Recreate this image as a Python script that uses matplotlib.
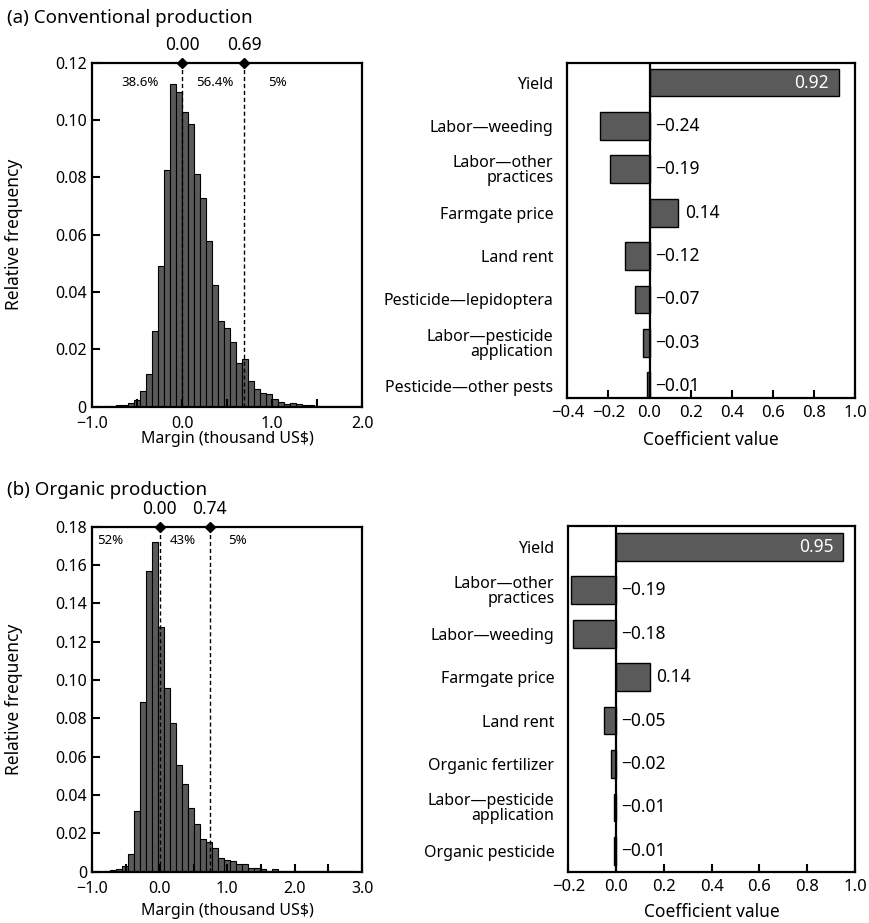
import matplotlib
matplotlib.use("Agg")
import matplotlib.pyplot as plt
import numpy as np
from matplotlib.ticker import FixedLocator, FuncFormatter

plt.rcParams['font.family'] = ['Noto Sans', 'DejaVu Sans']
plt.rcParams['axes.unicode_minus'] = True

# histogram of margins, (a) conventional: 45 bins from -1 to 2
conv_range = (-1.0, 2.0)
conv_freq = [0, 0, 0.0002, 0.0003, 0.0005, 0.0006, 0.0013, 0.0025, 0.0056, 0.0113,
             0.0265, 0.0492, 0.0826, 0.1124, 0.1097, 0.1029, 0.0986, 0.0810, 0.0727, 0.0578,
             0.0426, 0.0299, 0.0276, 0.0227, 0.0151, 0.0165, 0.0091, 0.0060, 0.0047, 0.0044,
             0.0026, 0.0017, 0.0008, 0.0012, 0.0009, 0.0005, 0.0005, 0.0004, 0.0003, 0.0003,
             0.0002, 0.0002, 0.0002, 0.0001, 0.0001]
conv_marks = [0.00, 0.69]
conv_pct = ['38.6%', '56.4%', '5%']
conv_pct_x = [-0.47, 0.36, 1.06]

# (b) organic: 45 bins from -1 to 3
org_range = (-1.0, 3.0)
org_freq = [0, 0, 0.0003, 0.0007, 0.0014, 0.0030, 0.0093, 0.0315, 0.0887, 0.1570,
            0.1720, 0.1275, 0.0960, 0.0774, 0.0555, 0.0456, 0.0334, 0.0249, 0.0170, 0.0157,
            0.0122, 0.0070, 0.0060, 0.0058, 0.0038, 0.0038, 0.0017, 0.0017, 0.0016, 0.0004,
            0.0012, 0.0005, 0.0004, 0.0003, 0.0003, 0.0002, 0.0002, 0.0002, 0.0002, 0.0001,
            0.0001, 0.0001, 0.0001, 0.0001, 0]
org_marks = [0.00, 0.74]
org_pct = ['52%', '43%', '5%']
org_pct_x = [-0.74, 0.335, 1.144]

# regression coefficients
conv_vars = ['Yield', 'Labor\u2014weeding', 'Labor\u2014other\npractices', 'Farmgate price',
             'Land rent', 'Pesticide\u2014lepidoptera', 'Labor\u2014pesticide\napplication',
             'Pesticide\u2014other pests']
conv_coef = [0.92, -0.24, -0.19, 0.14, -0.12, -0.07, -0.03, -0.01]
org_vars = ['Yield', 'Labor\u2014other\npractices', 'Labor\u2014weeding', 'Farmgate price',
            'Land rent', 'Organic fertilizer', 'Labor\u2014pesticide\napplication',
            'Organic pesticide']
org_coef = [0.95, -0.19, -0.18, 0.14, -0.05, -0.02, -0.01, -0.01]

BAR = '#5a5a5a'
FS = 11.5


def fmt_num(v):
    s = '%.2f' % abs(v)
    return ('\u2212' + s) if v < 0 else s


def hist_panel(ax, rng, freq, ymax, marks, pct, pct_x, pct_y, ylab_x, xlab_y):
    edges = np.linspace(rng[0], rng[1], len(freq) + 1)
    ax.bar(edges[:-1], freq, width=np.diff(edges), align='edge',
           color=BAR, edgecolor='black', linewidth=0.8)
    ax.set_xlim(rng)
    ax.set_ylim(0, ymax)
    for m in marks:
        ax.plot([m, m], [0, ymax], color='black', ls=(0, (3, 2)), lw=1.0)
        ax.plot(m, ymax, marker='D', color='black', ms=5, clip_on=False, zorder=5)
        ax.annotate('%.2f' % m, (m, ymax), xytext=(0, 6), textcoords='offset points',
                    ha='center', va='bottom', fontsize=12.5)
    for t, x in zip(pct, pct_x):
        ax.text(x, pct_y, t, ha='center', va='center', fontsize=9.5)
    ax.xaxis.set_major_locator(FixedLocator(np.arange(rng[0], rng[1] + 0.01, 0.5)))
    ax.xaxis.set_major_formatter(FuncFormatter(
        lambda v, p: ('%.1f' % v).replace('-', '\u2212') if abs(v - round(v)) < 1e-6 else ''))
    yt = np.arange(0, ymax + 1e-9, 0.02)
    ax.yaxis.set_major_locator(FixedLocator(yt))
    ax.yaxis.set_major_formatter(FuncFormatter(lambda v, p: '0' if v == 0 else '%.2f' % v))
    ax.tick_params(direction='in', length=6, width=1.5, labelsize=FS)
    ax.tick_params(axis='x', pad=7)
    ax.tick_params(axis='y', pad=4)
    ax.set_ylabel('Relative frequency', fontsize=12.5)
    ax.yaxis.set_label_coords(ylab_x, 0.5)
    ax.set_xlabel('Margin (thousand US$)', fontsize=FS)
    ax.xaxis.set_label_coords(0.5, xlab_y)
    for s in ax.spines.values():
        s.set_linewidth(1.6)


def coef_panel(ax, names, coef, xmin, ylim, xlab_y):
    pos = np.arange(len(names))
    ax.barh(pos, coef, height=0.64, color=BAR, edgecolor='black', linewidth=1.0)
    ax.axvline(0, color='black', lw=1.6)
    ax.set_xlim(xmin, 1.0)
    ax.set_ylim(ylim)
    ax.set_yticks(pos)
    ax.set_yticklabels(names, fontsize=FS, linespacing=0.9)
    ax.tick_params(axis='y', length=0, pad=10)
    ax.xaxis.set_major_locator(FixedLocator(np.arange(xmin, 1.01, 0.2)))
    ax.xaxis.set_major_formatter(FuncFormatter(lambda v, p: ('%.1f' % v).replace('-', '\u2212')))
    ax.tick_params(axis='x', direction='in', length=6, width=1.5, labelsize=12, pad=5)
    ax.set_xlabel('Coefficient value', fontsize=12.5)
    ax.xaxis.set_label_coords(0.5, xlab_y)
    for y, v in zip(pos, coef):
        if v > 0.5:
            ax.annotate(fmt_num(v), (v, y), xytext=(-7, 0), textcoords='offset points',
                        ha='right', va='center', color='white', fontsize=12.5)
        elif v > 0:
            ax.annotate(fmt_num(v), (v, y), xytext=(5, 0), textcoords='offset points',
                        ha='left', va='center', fontsize=12.5)
        else:
            ax.annotate(fmt_num(v), (0, y), xytext=(4, 0), textcoords='offset points',
                        ha='left', va='center', fontsize=12.5)
    for s in ax.spines.values():
        s.set_linewidth(1.6)


fig = plt.figure(figsize=(8.7, 9.23), dpi=100)

ax1 = fig.add_axes([0.1061, 0.5594, 0.3103, 0.3727])
hist_panel(ax1, conv_range, conv_freq, 0.12, conv_marks, conv_pct, conv_pct_x, 0.113,
           -0.257, -0.072)
ax2 = fig.add_axes([0.6521, 0.5685, 0.3307, 0.3636])
coef_panel(ax2, conv_vars, conv_coef, -0.4, (7.28, -0.46), -0.098)

ax3 = fig.add_axes([0.1063, 0.0556, 0.3098, 0.3738])
hist_panel(ax3, org_range, org_freq, 0.18, org_marks, org_pct, org_pct_x, 0.173,
           -0.258, -0.092)
ax4 = fig.add_axes([0.6532, 0.0556, 0.3295, 0.3745])
coef_panel(ax4, org_vars, org_coef, -0.2, (7.48, -0.48), -0.092)

fig.text(0.008, 1 - 18 / 923, '(a) Conventional production', fontsize=13.5, va='center', ha='left')
fig.text(0.008, 1 - 490 / 923, '(b) Organic production', fontsize=13.5, va='center', ha='left')

fig.savefig('out.png', dpi=100)
